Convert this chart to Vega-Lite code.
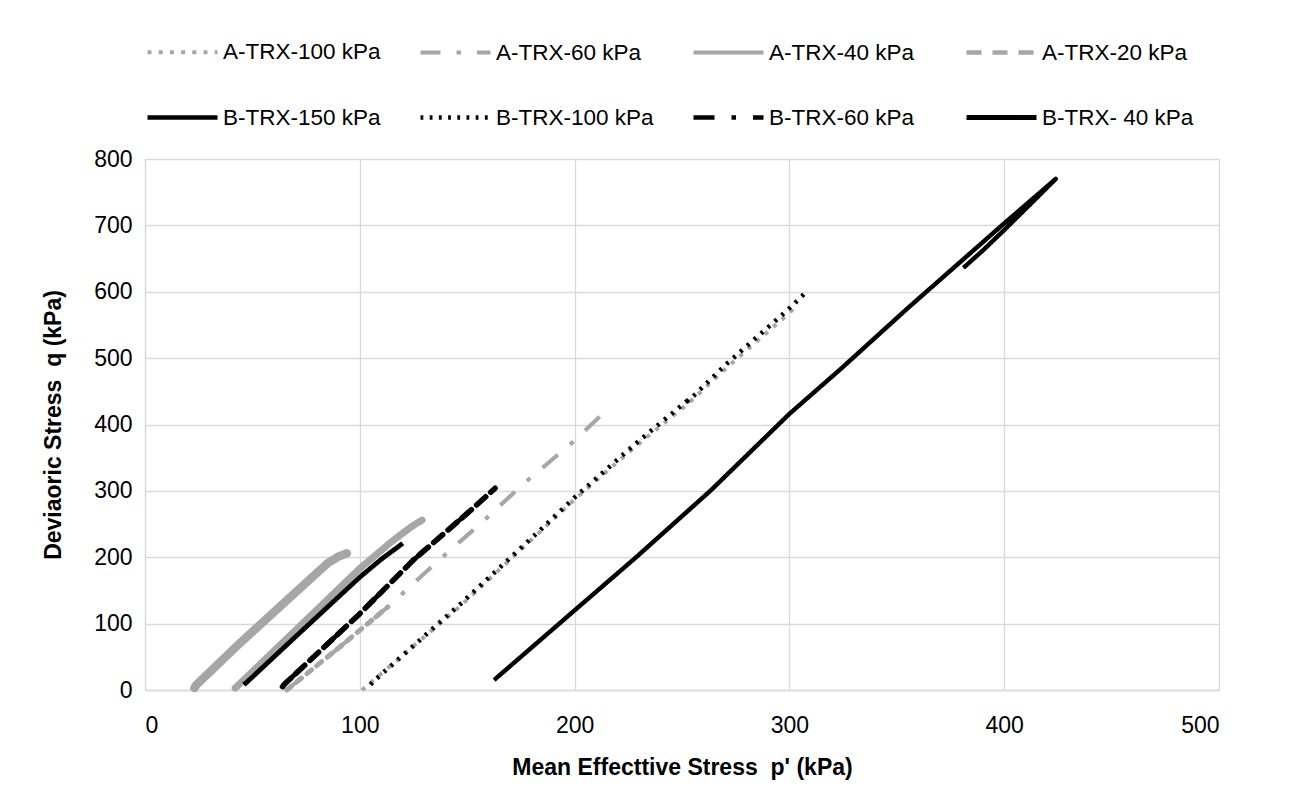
{
  "$schema": "https://vega.github.io/schema/vega-lite/v6.json",
  "autosize": {"type": "none"},
  "padding": {"left": 145, "top": 159, "right": 73, "bottom": 115},
  "width": 1074,
  "height": 531,
  "background": "#ffffff",
  "config": {
    "font": "Liberation Sans",
    "view": {"stroke": null},
    "axis": {
      "grid": true, "gridColor": "#d9d9d9", "gridWidth": 1.3,
      "domain": true, "domainColor": "#d9d9d9", "domainWidth": 1.3,
      "ticks": false,
      "labelFont": "Liberation Sans", "labelFontSize": 23, "labelColor": "#000000",
      "titleFont": "Liberation Sans", "titleFontSize": 23, "titleFontWeight": "bold", "titleColor": "#000000"
    },
    "legend": {
      "orient": "none", "legendX": 0, "legendY": -144,
      "direction": "horizontal", "columns": 4, "gridAlign": "all",
      "columnPadding": 37, "rowPadding": 16,
      "symbolType": "stroke", "symbolSize": 4900,
      "labelFont": "Liberation Sans", "labelFontSize": 22.5, "labelColor": "#000000",
      "labelOffset": 3, "labelLimit": 400
    },
    "line": {"strokeJoin": "round"}
  },
  "data": {"values": [
    {"s": "A-TRX-100 kPa", "i": 0, "p": 101, "q": 0},
    {"s": "A-TRX-100 kPa", "i": 1, "p": 104, "q": 8},
    {"s": "A-TRX-100 kPa", "i": 2, "p": 147, "q": 127},
    {"s": "A-TRX-100 kPa", "i": 3, "p": 200, "q": 287},
    {"s": "A-TRX-100 kPa", "i": 4, "p": 228, "q": 366},
    {"s": "A-TRX-100 kPa", "i": 5, "p": 253, "q": 432},
    {"s": "A-TRX-100 kPa", "i": 6, "p": 271, "q": 486},
    {"s": "A-TRX-100 kPa", "i": 7, "p": 300, "q": 568},
    {"s": "A-TRX-100 kPa", "i": 8, "p": 304, "q": 582},
    {"s": "A-TRX-60 kPa", "i": 0, "p": 66, "q": 0},
    {"s": "A-TRX-60 kPa", "i": 1, "p": 90, "q": 63},
    {"s": "A-TRX-60 kPa", "i": 2, "p": 113, "q": 125},
    {"s": "A-TRX-60 kPa", "i": 3, "p": 137, "q": 196},
    {"s": "A-TRX-60 kPa", "i": 4, "p": 157, "q": 253},
    {"s": "A-TRX-60 kPa", "i": 5, "p": 176, "q": 310},
    {"s": "A-TRX-60 kPa", "i": 6, "p": 199, "q": 373},
    {"s": "A-TRX-60 kPa", "i": 7, "p": 215, "q": 422},
    {"s": "A-TRX-40 kPa", "i": 0, "p": 42, "q": 3},
    {"s": "A-TRX-40 kPa", "i": 1, "p": 44, "q": 9},
    {"s": "A-TRX-40 kPa", "i": 2, "p": 91, "q": 155},
    {"s": "A-TRX-40 kPa", "i": 3, "p": 100, "q": 183},
    {"s": "A-TRX-40 kPa", "i": 4, "p": 115, "q": 224},
    {"s": "A-TRX-40 kPa", "i": 5, "p": 124, "q": 246},
    {"s": "A-TRX-40 kPa", "i": 6, "p": 129, "q": 256},
    {"s": "A-TRX-20 kPa", "i": 0, "p": 23, "q": 3},
    {"s": "A-TRX-20 kPa", "i": 1, "p": 24, "q": 8},
    {"s": "A-TRX-20 kPa", "i": 2, "p": 44, "q": 70},
    {"s": "A-TRX-20 kPa", "i": 3, "p": 66, "q": 135},
    {"s": "A-TRX-20 kPa", "i": 4, "p": 85, "q": 191},
    {"s": "A-TRX-20 kPa", "i": 5, "p": 90, "q": 201},
    {"s": "A-TRX-20 kPa", "i": 6, "p": 94, "q": 206},
    {"s": "B-TRX-150 kPa", "i": 0, "p": 162.5, "q": 15},
    {"s": "B-TRX-150 kPa", "i": 1, "p": 175, "q": 50},
    {"s": "B-TRX-150 kPa", "i": 2, "p": 200, "q": 120},
    {"s": "B-TRX-150 kPa", "i": 3, "p": 229, "q": 201},
    {"s": "B-TRX-150 kPa", "i": 4, "p": 263.5, "q": 301},
    {"s": "B-TRX-150 kPa", "i": 5, "p": 300, "q": 416},
    {"s": "B-TRX-150 kPa", "i": 6, "p": 324, "q": 484},
    {"s": "B-TRX-150 kPa", "i": 7, "p": 355, "q": 575},
    {"s": "B-TRX-150 kPa", "i": 8, "p": 400, "q": 703},
    {"s": "B-TRX-150 kPa", "i": 9, "p": 424, "q": 770},
    {"s": "B-TRX-150 kPa", "i": 10, "p": 415, "q": 741},
    {"s": "B-TRX-150 kPa", "i": 11, "p": 400, "q": 693},
    {"s": "B-TRX-150 kPa", "i": 12, "p": 390, "q": 662},
    {"s": "B-TRX-150 kPa", "i": 13, "p": 381, "q": 636},
    {"s": "B-TRX-100 kPa", "i": 0, "p": 105, "q": 8},
    {"s": "B-TRX-100 kPa", "i": 1, "p": 106, "q": 12},
    {"s": "B-TRX-100 kPa", "i": 2, "p": 147, "q": 130},
    {"s": "B-TRX-100 kPa", "i": 3, "p": 156, "q": 157},
    {"s": "B-TRX-100 kPa", "i": 4, "p": 184, "q": 241},
    {"s": "B-TRX-100 kPa", "i": 5, "p": 200, "q": 290},
    {"s": "B-TRX-100 kPa", "i": 6, "p": 228, "q": 370},
    {"s": "B-TRX-100 kPa", "i": 7, "p": 254, "q": 440},
    {"s": "B-TRX-100 kPa", "i": 8, "p": 251, "q": 431},
    {"s": "B-TRX-100 kPa", "i": 9, "p": 256, "q": 445},
    {"s": "B-TRX-100 kPa", "i": 10, "p": 271, "q": 492},
    {"s": "B-TRX-100 kPa", "i": 11, "p": 299, "q": 572},
    {"s": "B-TRX-100 kPa", "i": 12, "p": 308, "q": 600},
    {"s": "B-TRX-60 kPa", "i": 0, "p": 64, "q": 5},
    {"s": "B-TRX-60 kPa", "i": 1, "p": 65, "q": 9},
    {"s": "B-TRX-60 kPa", "i": 2, "p": 100, "q": 115},
    {"s": "B-TRX-60 kPa", "i": 3, "p": 125, "q": 196},
    {"s": "B-TRX-60 kPa", "i": 4, "p": 150, "q": 266},
    {"s": "B-TRX-60 kPa", "i": 5, "p": 163, "q": 304},
    {"s": "B-TRX- 40 kPa", "i": 0, "p": 46, "q": 8},
    {"s": "B-TRX- 40 kPa", "i": 1, "p": 47.5, "q": 12},
    {"s": "B-TRX- 40 kPa", "i": 2, "p": 70, "q": 80},
    {"s": "B-TRX- 40 kPa", "i": 3, "p": 91, "q": 143},
    {"s": "B-TRX- 40 kPa", "i": 4, "p": 100, "q": 170},
    {"s": "B-TRX- 40 kPa", "i": 5, "p": 110, "q": 197},
    {"s": "B-TRX- 40 kPa", "i": 6, "p": 120, "q": 221}
  ]},
  "encoding": {
    "x": {"field": "p", "type": "quantitative",
      "scale": {"domain": [0, 500], "nice": false, "zero": false},
      "axis": {"values": [0, 100, 200, 300, 400, 500], "labelPadding": 24, "titlePadding": 19, "title": "Mean Effecttive Stress \u00a0p' (kPa)"}},
    "y": {"field": "q", "type": "quantitative",
      "scale": {"domain": [0, 800], "nice": false},
      "axis": {"values": [0, 100, 200, 300, 400, 500, 600, 700, 800], "labelPadding": 13, "titlePadding": 28, "title": "Deviaoric Stress \u00a0q (kPa)"}},
    "order": {"field": "i", "type": "quantitative"},
    "color": {"field": "s", "type": "nominal", "title": null,
      "scale": {
        "domain": ["A-TRX-100 kPa", "A-TRX-60 kPa", "A-TRX-40 kPa", "A-TRX-20 kPa", "B-TRX-150 kPa", "B-TRX-100 kPa", "B-TRX-60 kPa", "B-TRX- 40 kPa"],
        "range": ["#a6a6a6", "#a6a6a6", "#a6a6a6", "#a6a6a6", "#000000", "#000000", "#000000", "#000000"]
      }
    },
    "strokeDash": {"field": "s", "type": "nominal", "title": null,
      "scale": {
        "domain": ["A-TRX-100 kPa", "A-TRX-60 kPa", "A-TRX-40 kPa", "A-TRX-20 kPa", "B-TRX-150 kPa", "B-TRX-100 kPa", "B-TRX-60 kPa", "B-TRX- 40 kPa"],
        "range": [[4, 7.2], [20, 16, 4.5, 16], [1, 0], [15, 11], [1, 0], [2.8, 6.4], [21, 17, 4.5, 17], [1, 0]]
      }
    }
  },
  "layer": [
    {
      "transform": [{"filter": {"field": "s", "equal": "A-TRX-20 kPa"}}],
      "mark": {"type": "line", "strokeWidth": 8.5, "strokeCap": "round"},
      "encoding": {"strokeDash": {"value": [1, 0]}}
    },
    {
      "transform": [{"filter": {"field": "s", "equal": "A-TRX-40 kPa"}}],
      "mark": {"type": "line", "strokeWidth": 7, "strokeCap": "round"},
      "encoding": {"strokeDash": {"value": [1, 0]}}
    },
    {
      "transform": [{"filter": "datum.s === 'A-TRX-60 kPa' && datum.p <= 113"}],
      "mark": {"type": "line", "strokeWidth": 5, "strokeCap": "round"},
      "encoding": {"strokeDash": {"value": [6, 7]}}
    },
    {
      "transform": [{"filter": {"field": "s", "equal": "B-TRX-60 kPa"}}],
      "mark": {"type": "line", "strokeWidth": 5.5, "strokeCap": "round"},
      "encoding": {"strokeDash": {"value": [12, 7]}}
    },
    {
      "mark": {"type": "line"},
      "encoding": {
        "strokeWidth": {"field": "s", "type": "nominal", "title": null,
          "scale": {
            "domain": ["A-TRX-100 kPa", "A-TRX-60 kPa", "A-TRX-40 kPa", "A-TRX-20 kPa", "B-TRX-150 kPa", "B-TRX-100 kPa", "B-TRX-60 kPa", "B-TRX- 40 kPa"],
            "range": [4, 4.8, 2.5, 4.6, 2.8, 3, 5, 3.5]
          }
        }
      }
    }
  ]
}
